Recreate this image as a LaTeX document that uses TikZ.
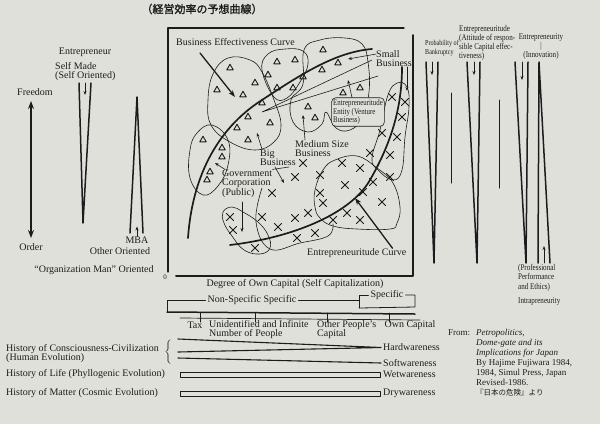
\documentclass[tikz,border=0pt]{standalone}
\usepackage{fontspec}
\setmainfont{Liberation Serif}
\newfontfamily\narrowfont[FakeStretch=0.8]{Liberation Serif}
\newfontfamily\cjkfont{Noto Sans CJK JP}
\newfontfamily\cjkboldfont[FakeBold=1.5]{Noto Sans CJK JP}
\usetikzlibrary{shapes.geometric, shapes.misc, arrows.meta, positioning}
\definecolor{paper}{RGB}{224,224,219}
\definecolor{ink}{RGB}{28,28,28}

\begin{document}
\begin{tikzpicture}[x=1pt, y=-1pt, line join=round, line cap=round]
  \tikzstyle{lbl} = [inner sep=0pt, text=ink, font=\fontsize{10}{9.5}\selectfont, align=left]
  \tikzstyle{narrowlbl} = [inner sep=0pt, text=ink, font=\narrowfont\fontsize{8.8}{9}\selectfont, align=left]
  \tikzstyle{tri} = [regular polygon, regular polygon sides=3, draw=ink, line width=0.9pt, inner sep=0pt, minimum size=7.5pt]
  \tikzstyle{xmark} = [cross out, draw=ink, line width=0.9pt, inner sep=0pt, minimum size=6pt]
  \tikzstyle{blob} = [draw=ink, line width=0.6pt]
  \tikzstyle{curve} = [draw=ink, line width=1.7pt]
  \tikzstyle{thinline} = [draw=ink, line width=0.6pt]
  \tikzstyle{funnel} = [draw=ink, line width=1.5pt]
  \tikzstyle{pointer} = [draw=ink, line width=0.6pt, -{Stealth[length=4pt,width=3pt]}]
  \tikzstyle{bigpointer} = [draw=ink, line width=1.3pt, -{Stealth[length=7pt,width=5pt]}]

  \fill[paper] (0,0) rectangle (600,424);
  \useasboundingbox (0,0) rectangle (600,424);

  % title
  \node[lbl, font=\cjkboldfont\fontsize{11}{11}\selectfont] (title) at (202,9) {（経営効率の予想曲線）};

  % left column
  \node[lbl] (entrepreneur) at (85,52) {Entrepreneur};
  \node[lbl, anchor=west] (selfmade) at (55,71.5) {Self Made\\(Self Oriented)};
  \node[lbl] (freedom) at (35,92) {Freedom};
  \node[lbl] (order) at (31,247) {Order};
  \coordinate (fr) at (31,101);
  \coordinate (od) at (31,238);
  \draw[ink, line width=1.4pt, {Stealth[length=8pt,width=6pt]}-{Stealth[length=8pt,width=6pt]}] (fr) -- (od);
  \draw[funnel] (79,83) -- (83,223) -- (91,83);
  \draw[pointer] (85,83) -- (85,95);
  \draw[funnel] (130,233) -- (137,97) -- (143,233);
  \node[lbl] (mba) at (137,240) {MBA};
  \draw[pointer] (mba.north) -- ++(0,-10);
  \node[lbl] (otheroriented) at (120,251) {Other Oriented};
  \node[lbl] (orgman) at (94,270) {``Organization Man'' Oriented};

  % frame of the chart
  \draw[ink, line width=1.2pt] (168,272) -- (168,28) -- (404,28);
  \draw[ink, line width=2pt] (413,35) -- (413,276) -- (176,276);
  \node[lbl, font=\fontsize{7}{7}\selectfont] (origin) at (165,277) {0};
  \node[lbl] (xaxis) at (295,284) {Degree of Own Capital (Self Capitalization)};

  % blobs
  \draw[blob] plot[smooth cycle, tension=0.7] coordinates {(208,100) (213,74) (228,58) (250,60) (262,72) (274,100) (281,125) (274,142) (255,150) (230,142) (211,125)};
  \draw[blob] plot[smooth cycle, tension=0.7] coordinates {(262,70) (268,54) (285,49) (303,51) (308,64) (300,82) (287,98) (274,97)};
  \draw[blob] plot[smooth cycle, tension=0.7] coordinates {(304,50) (320,40) (345,38) (362,44) (368,62) (369,92) (362,118) (350,130) (336,128) (326,112) (322,124) (308,132) (293,122) (291,100) (303,84)};
  \draw[blob] plot[smooth cycle, tension=0.7] coordinates {(190,178) (190,150) (197,133) (212,125) (228,140) (228,165) (218,186) (203,195)};
  \draw[blob] plot[smooth cycle, tension=0.7] coordinates {(223,212) (232,207) (243,212) (258,222) (268,235) (270,248) (260,254) (244,250) (232,236) (224,223)};
  \draw[blob] plot[smooth, tension=0.7] coordinates {(262,188) (256,222) (270,249) (300,243) (328,236) (333,224)};
  \draw[blob] plot[smooth cycle, tension=0.7] coordinates {(315,190) (323,170) (335,160) (357,156) (377,168) (393,183) (400,207) (397,223) (390,229) (357,229) (333,226) (320,218) (315,207)};
  \draw[blob] plot[smooth cycle, tension=0.7] coordinates {(372,158) (380,130) (388,95) (397,83) (407,87) (409,107) (405,137) (402,170) (393,180) (378,170)};

  % marks
  \foreach \p [count=\i] in {(230,68),(255,83),(217,90),(243,95),(262,103),(248,117),(237,128),(270,123),(248,140),
      (277,62),(295,60),(268,75),(277,88),(293,88),(323,50),(338,63),(322,70),(303,77),(343,93),(360,88),
      (308,107),(315,118),(203,140),(222,148),(222,157),(210,172),(207,180)}
    \node[tri] (tri\i) at \p {};
  \foreach \p [count=\i] in {(303,163),(295,177),(272,193),(262,217),(278,227),(295,218),(308,213),(297,238),
      (315,233),(333,220),(347,213),(360,220),(320,175),(342,163),(360,168),(373,182),(390,177),(390,155),
      (370,153),(345,185),(363,192),(320,193),(323,203),(382,202),(230,217),(233,230),(255,248),
      (392,97),(405,102),(402,117),(382,133),(397,137)}
    \node[xmark] (x\i) at \p {};

  % curves
  \draw[curve] (188,238) .. controls (192,180) and (215,130) .. (262,100) .. controls (300,75) and (335,52) .. (372,49);
  \draw[curve] (230,245) .. controls (290,238) and (350,215) .. (370,180) .. controls (390,145) and (402,110) .. (402,67);

  % labels inside the chart
  \node[lbl, anchor=west] (bec) at (176,42) {Business Effectiveness Curve};
  \coordinate (becend) at (235,97);
  \draw[bigpointer] (200,53) -- (becend);
  \node[lbl, anchor=west] (ec) at (307,253) {Entrepreneuritude Curve};
  \coordinate (ecend) at (355,198);
  \draw[bigpointer] ([xshift=-14pt]ec.north east) -- (ecend);

  \node[lbl, anchor=west] (smallbiz) at (376,58.5) {Small\\Business};
  \coordinate (smallend) at (348,59);
  \draw[pointer] ([yshift=-4pt]smallbiz.north west) -- (smallend);
  \draw[pointer] ([xshift=-5pt]smallbiz.south east) -- ++(0,24);
  \coordinate (wedge) at (262,112);
  \coordinate (wedgea) at (372,60);
  \coordinate (wedgeb) at (378,76);
  \draw[thinline] (wedgea) -- (wedge) -- (wedgeb);

  \node[draw=ink, rounded corners=4pt, line width=0.6pt, inner sep=1.5pt, text=ink,
        font=\narrowfont\fontsize{8.6}{7.6}\selectfont, align=left, fill=paper] (venture) at (358,112)
        {Entrepreneuritude\\Entity (Venture\\Business)};
  \coordinate (ventureend) at (348,80);
  \draw[pointer] ([xshift=-6pt]venture.north) -- (ventureend);

  \node[lbl, anchor=west] (medium) at (295,148.5) {Medium Size\\Business};
  \coordinate (mediumend) at (303,115);
  \draw[pointer] ([xshift=10pt]medium.north west) -- (mediumend);

  \node[lbl, anchor=west] (big) at (260,157.5) {Big\\Business};
  \coordinate (bigend) at (257,133);
  \draw[pointer] ([xshift=2pt]big.north west) -- (bigend);
  \coordinate (bigend2) at (284,183);
  \draw[pointer] (275,167) -- (bigend2);

  \node[lbl, anchor=west] (gov) at (222,183.5) {Government\\Corporation\\(Public)};
  \coordinate (govend) at (215,163);
  \draw[pointer] ([xshift=3pt]gov.north west) -- (govend);
  \coordinate (govend2) at (242,232);
  \draw[pointer] (242,202) -- (govend2);
  \coordinate (govend3) at (289,167);
  \draw[thinline] (gov.north east) -- (govend3);

  % right column
  \node[narrowlbl, font=\narrowfont\fontsize{7.6}{9}\selectfont, anchor=west] (prob) at (425,48.5) {Probability of\\Bankruptcy};
  \draw[funnel] (426,62) -- (434,263) -- (438,62);
  \draw[pointer] (432,62) -- (432,75);
  \draw[ink, line width=1pt] (451,93) -- (451,183);
  \node[narrowlbl, anchor=west] (attitude) at (459,42.5) {Entrepreneuritude\\(Attitude of respon-\\sible Capital effec-\\tiveness)};
  \draw[funnel] (467,62) -- (477,263) -- (480,62);
  \draw[pointer] (474,62) -- (474,75);
  \draw[ink, line width=1pt] (499,100) -- (499,188);
  \node[narrowlbl, align=center, font=\narrowfont\fontsize{8.8}{8}\selectfont] (innovation) at (541,47) {Entrepreneurity\\|\\(Innovation)};
  \draw[funnel] (515,62) -- (526,263) -- (528,62);
  \draw[pointer] (522,62) -- (522,80);
  \draw[funnel] (538,263) -- (539,62) -- (550,263);
  \draw[pointer] (544,263) -- (544,246);
  \node[narrowlbl, anchor=west, font=\narrowfont\fontsize{8.8}{9.5}\selectfont] (ethics) at (518,277.5) {(Professional\\Performance\\and Ethics)};
  \node[narrowlbl, anchor=west] (intra) at (518,302) {Intrapreneurity};

  % capital scale
  \node[lbl] (nonspec) at (252,300) {Non-Specific Specific};
  \node[lbl] (spec) at (387,295) {Specific};
  \draw[ink, line width=0.8pt] (167,312) -- (167,300) -- ([xshift=-2pt]nonspec.west);
  \draw[ink, line width=0.8pt] ([xshift=2pt]nonspec.east) -- (359,300);
  \draw[ink, line width=0.8pt] (359,308) -- (359,295) -- ([xshift=-2pt]spec.west);
  \draw[ink, line width=0.8pt] ([xshift=2pt]spec.east) -- (415,295) -- (415,307) -- (359,308);
  \draw[ink, line width=1.5pt] (167,312) -- (415,314);
  \draw[ink, line width=0.7pt] (180,318) -- (420,320);
  \foreach \tx in {200,255,327,389}
    \draw[ink, line width=1pt] (\tx,313) -- (\tx,322);
  \node[lbl] (tax) at (195,325) {Tax};
  \node[lbl, anchor=west] (unident) at (209,329.5) {Unidentified and Infinite\\Number of People};
  \node[lbl, anchor=west] (otherpeople) at (317,329.5) {Other People's\\Capital};
  \node[lbl] (owncap) at (410,325) {Own Capital};

  % wareness bands
  \node[lbl, anchor=west] (consc) at (6,353.5) {History of Consciousness-Civilization\\(Human Evolution)};
  \node[lbl] (brace) at (168,352) {$\bigg\{$};
  \node[lbl, anchor=west] (hard) at (383,347.5) {Hardwareness};
  \node[lbl, anchor=west] (soft) at (383,363) {Softwareness};
  \draw[ink, line width=1.1pt] (178,339) -- ([xshift=-2pt]hard.west) -- (178,352);
  \draw[ink, line width=1.1pt] (178,358) -- ([xshift=-2pt]soft.west);
  \node[lbl, anchor=west] (life) at (6,374) {History of Life (Phyllogenic Evolution)};
  \node[lbl, anchor=west] (wet) at (383,374.5) {Wetwareness};
  \draw[ink, line width=0.8pt] (180,372) rectangle (380,377);
  \node[lbl, anchor=west] (matter) at (6,393) {History of Matter (Cosmic Evolution)};
  \node[lbl, anchor=west] (dry) at (383,393.5) {Drywareness};
  \draw[ink, line width=0.8pt] (180,391) rectangle (380,396);

  % source
  \node[lbl, anchor=west, font=\fontsize{9}{10}\selectfont] (from) at (448,333) {From:};
  \node[lbl, anchor=west, font=\fontsize{9}{10}\selectfont] (source) at (476,363)
    {\textit{Petropolitics,}\\\textit{Dome-gate and its}\\\textit{Implications for Japan}\\By Hajime Fujiwara 1984,\\1984, Simul Press, Japan\\Revised-1986.\\{\cjkfont\fontsize{7.5}{10}\selectfont 『日本の危険』より}};
\end{tikzpicture}
\end{document}
